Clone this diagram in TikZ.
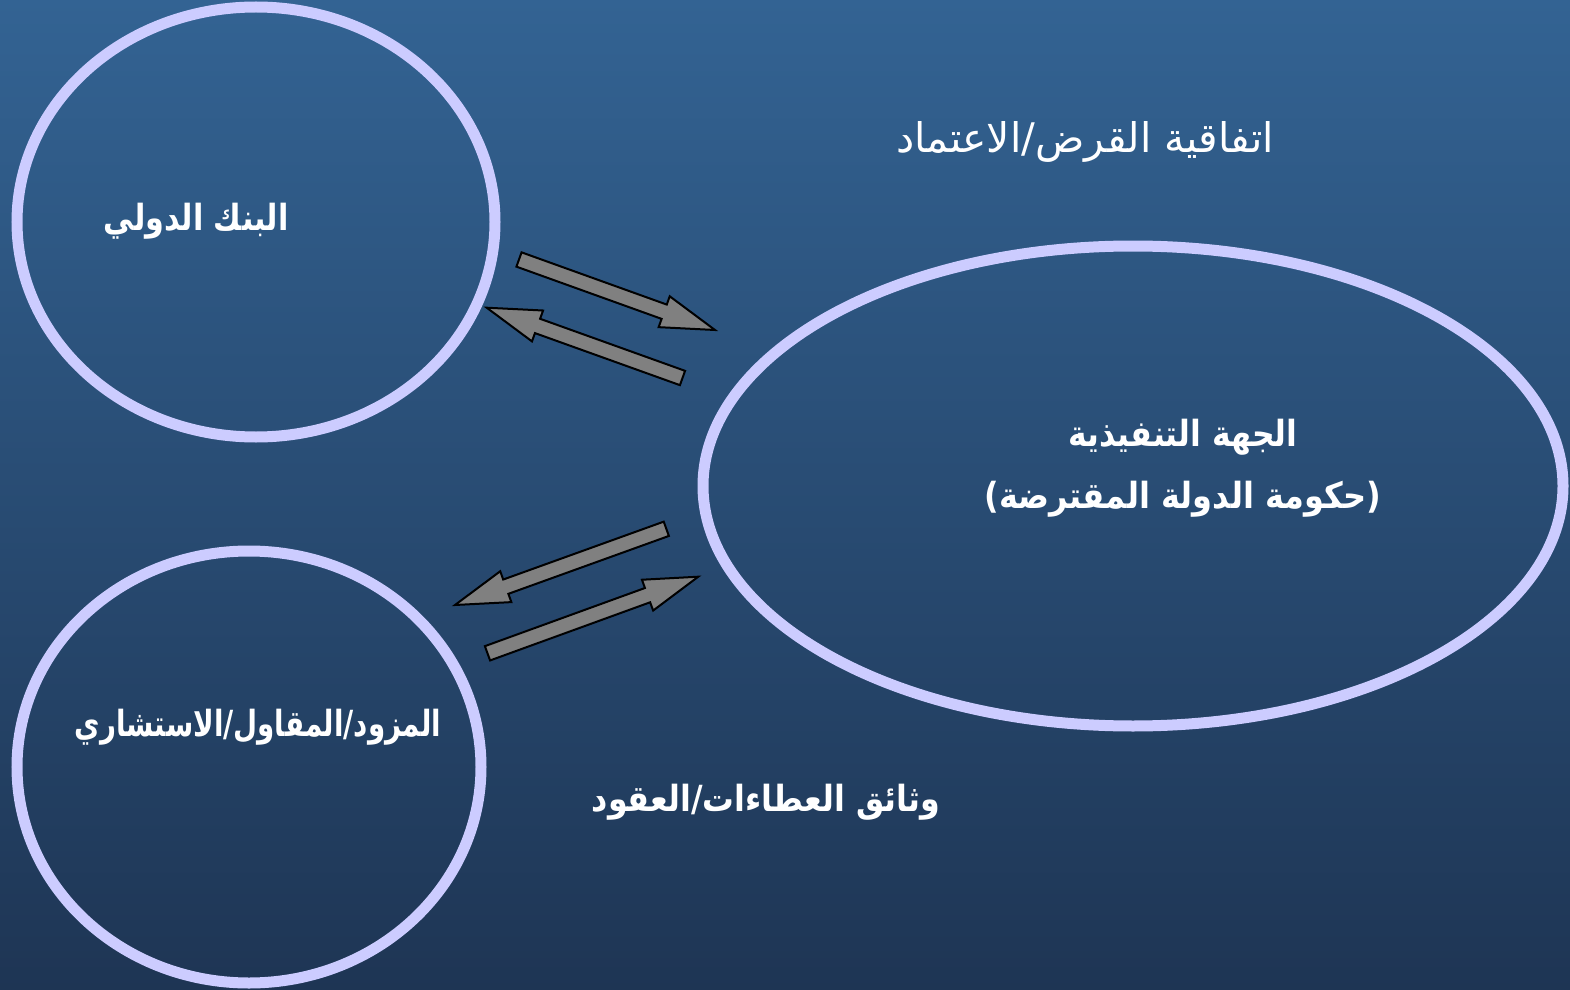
\documentclass[tikz,border=0pt]{standalone}
\usepackage{fontspec}
\usepackage{graphicx}
\usetikzlibrary{calc}
\TeXXeTstate=1
\newfontfamily\arabicfont[Script=Arabic]{DejaVu Sans}
\newfontfamily\plainsans{DejaVu Sans}
\definecolor{bgtop}{RGB}{51,99,147}
\definecolor{bgbot}{RGB}{30,53,84}
\definecolor{ringc}{RGB}{204,204,255}
\definecolor{arrfill}{RGB}{128,128,128}
\tikzset{
  ring/.style={draw=ringc, line width=5.5pt},
  lbl/.style={text=white, font=\arabicfont\fontsize{20.4}{24}\selectfont, inner sep=0pt},
  blbl/.style={lbl, font=\arabicfont\bfseries\fontsize{18}{31}\selectfont},
  barrow/.style={fill=arrfill, draw=black, line width=1pt, line join=miter}
}
\newcommand{\blockarr}[2]{%
  \coordinate (bah) at ($(#2)!27pt!(#1)$);
  \draw[barrow] ($(#1)!3.8pt!90:(#2)$) -- ($(bah)!3.8pt!90:(#2)$) -- ($(bah)!8.2pt!90:(#2)$) -- (#2)
     -- ($(bah)!8.2pt!-90:(#2)$) -- ($(bah)!3.8pt!-90:(#2)$) -- ($(#1)!3.8pt!-90:(#2)$) -- cycle;}
\begin{document}
\begin{tikzpicture}[x=0.5pt,y=-0.5pt]
\useasboundingbox (0,0) rectangle (1570,990);
\shade[top color=bgtop, bottom color=bgbot] (0,0) rectangle (1570,990);
\begin{scope}
\clip (0,0) rectangle (1570,990);
\draw[ring] (256,222) ellipse [x radius=239, y radius=215];
\draw[ring] (249,767) ellipse [x radius=232, y radius=216];
\draw[ring] (1133,486) ellipse [x radius=430, y radius=240];
\end{scope}
\node[blbl] (bank) at (196,221) {\scalebox{0.84}[1]{\beginR البنك الدولي\endR}};
\node[blbl] (supp) at (258,727) {\scalebox{0.77}[1]{\beginR المزود/المقاول/الاستشاري\endR}};
\node[blbl, align=center] (gov) at (1183,468) {\scalebox{0.875}[1]{\beginR الجهة التنفيذية\endR}\\ \scalebox{0.89}[1]{{\plainsans\bfseries(}\beginR حكومة الدولة المقترضة\endR{\plainsans\bfseries)}}};
\node[lbl] (loan) at (1085,142) {\beginR اتفاقية القرض/الاعتماد\endR};
\node[blbl] (bid) at (766,802) {\scalebox{0.88}[1]{\beginR وثائق العطاءات/العقود\endR}};
\coordinate (a1s) at (519,259.5); \coordinate (a1e) at (715,330);
\coordinate (a2s) at (682.5,378); \coordinate (a2e) at (486.7,307.7);
\coordinate (a3s) at (666.3,528.8); \coordinate (a3e) at (455,605);
\coordinate (a4s) at (487.5,653.3); \coordinate (a4e) at (698.3,576.7);
\blockarr{a1s}{a1e}
\blockarr{a2s}{a2e}
\blockarr{a3s}{a3e}
\blockarr{a4s}{a4e}
\end{tikzpicture}
\end{document}
